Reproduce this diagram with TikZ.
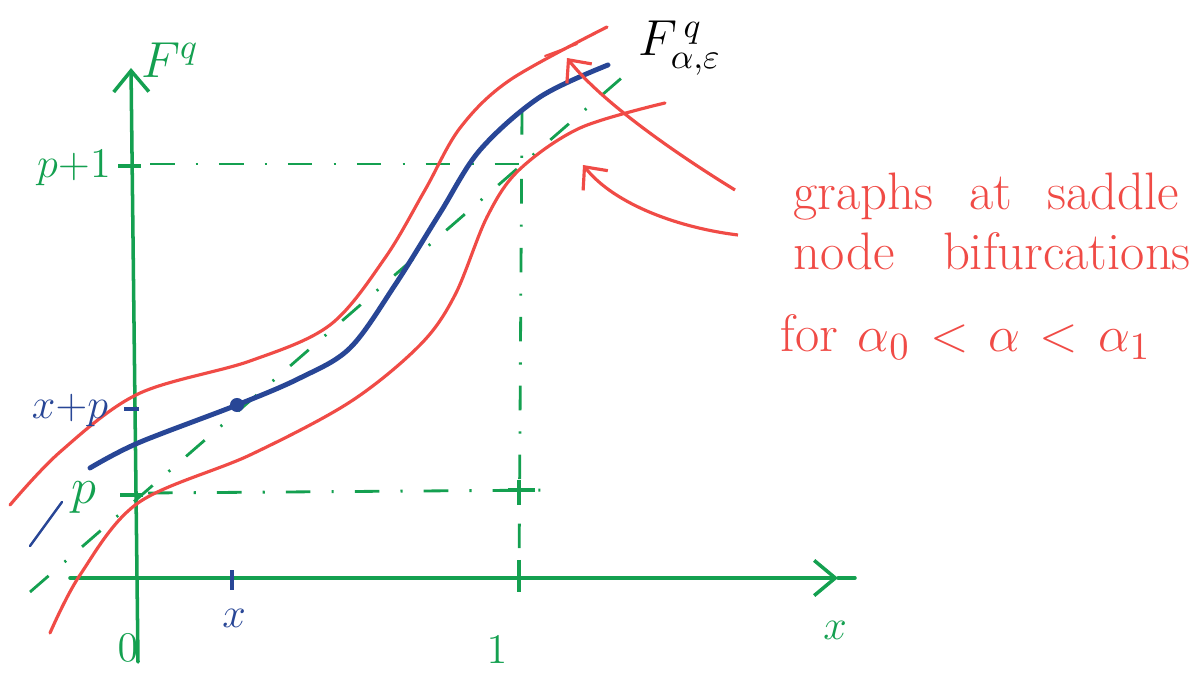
\documentclass[tikz,border=0pt]{standalone}
\usetikzlibrary{arrows.meta,positioning}
\definecolor{verde}{RGB}{20,160,80}
\definecolor{rojo}{RGB}{240,75,70}
\definecolor{azul}{RGB}{40,70,150}
\tikzset{
  eje/.style={verde, line width=1pt, line cap=round},
  punta/.style={-{Straight Barb[length=6pt,width=10pt]}},
  guia/.style={verde, line width=0.8pt, dash pattern=on 7pt off 6pt on 0.6pt off 6pt},
  marca/.style={verde, line width=1pt},
  grafo/.style={azul, line width=1.4pt, line cap=round},
  borde/.style={rojo, line width=0.9pt, line cap=round},
  flecha/.style={rojo, line width=0.9pt, -{Straight Barb[length=5pt,width=9pt]}},
  punto/.style={circle, fill=azul, minimum size=4pt, inner sep=0pt},
  etiq/.style={font=\large, inner sep=1pt},
  texto/.style={rojo, font=\fontsize{15}{18}\selectfont, anchor=base west, inner sep=0pt}
}

\begin{document}
\begin{tikzpicture}[x=0.01cm, y=-0.01cm]
\useasboundingbox (0,0) rectangle (1192,674);

% Ejes
\coordinate (y0) at (138,662);
\coordinate (ytop) at (131,68);
\coordinate (x0) at (70,578);
\coordinate (xtip) at (838,578);
\coordinate (xend) at (855,578);
\draw[eje,punta] (y0) -- (ytop);
\draw[eje,punta] (x0) -- (xtip);
\draw[eje] (xtip) -- (xend);

% Guias
\draw[guia] (150,164) -- (520,164);
\draw[guia] (148,493) -- (555,490);
\draw[guia] (522,110) -- (519,578);
\draw[guia] (30,592) -- (625,75);

% Marcas
\draw[marca] (118,166) -- (141,166);
\draw[marca] (120,495) -- (143,495);
\draw[marca] (519,480) -- (519,505);
\draw[marca] (508,490) -- (535,490);
\draw[marca] (519,560) -- (519,592);
\draw[azul, line width=1pt] (124,409) -- (139,409);
\draw[azul, line width=1pt] (232,570) -- (232,590);

% Graficos de borde
\draw[borde] plot[smooth, tension=0.55] coordinates {(10,505) (60,452) (138,394) (250,361)
  (330,325) (385,258) (425,190) (460,128) (510,80) (607,27)};
\draw[borde, line width=0.6pt] (545,56) -- (577,44);
\draw[borde] plot[smooth, tension=0.55] coordinates {(50,633) (80,575) (138,503) (250,455)
  (350,402) (420,345) (455,295) (487,217) (519,170) (580,128) (665,103)};

% Grafico de F
\draw[grafo] plot[smooth, tension=0.55] coordinates {(90,468) (138,443) (237,405) (300,378)
  (350,348) (395,285) (440,213) (480,150) (540,97) (608,65)};
\draw[azul, line width=0.7pt, line cap=round] (30,546) -- (62,502);
\node[punto] (fijo) at (237,405) {};

% Etiquetas
\node[etiq, verde, font=\Large] (Fq) at (170,60) {$F^{q}$};
\node[etiq, verde] (pmas1) at (74,168) {$p{+}1$};
\node[etiq, verde, font=\Large] (pbase) at (84,498) {$p$};
\node[etiq, azul] (xmasp) at (70,410) {$x{+}p$};
\node[etiq, verde] (cero) at (128,648) {$0$};
\node[etiq, verde] (uno) at (497,650) {$1$};
\node[etiq, azul] (xpunto) at (234,618) {$x$};
\node[etiq, verde] (xeje) at (835,630) {$x$};
\node[etiq, font=\Large] (Fae) at (680,48) {$F^{\,q}_{\alpha,\varepsilon}$};

% Texto
\node[texto] (lin1) at (793,210) {\makebox[3.85cm][s]{graphs at saddle}};
\node[texto] (lin2) at (793,270) {\makebox[3.97cm][s]{node bifurcations}};
\node[texto] (lin3) at (780,352) {\makebox[3.7cm][s]{for $\alpha_0$ $<$ $\alpha$ $<$ $\alpha_1$}};

\coordinate (a1) at (735,190);
\coordinate (b1) at (567,58);
\coordinate (a2) at (738,235);
\coordinate (b2) at (583,165);
\draw[flecha] (a1) .. controls (670,150) and (600,100) .. (b1);
\draw[flecha] (a2) .. controls (680,228) and (615,205) .. (b2);

\end{tikzpicture}
\end{document}
